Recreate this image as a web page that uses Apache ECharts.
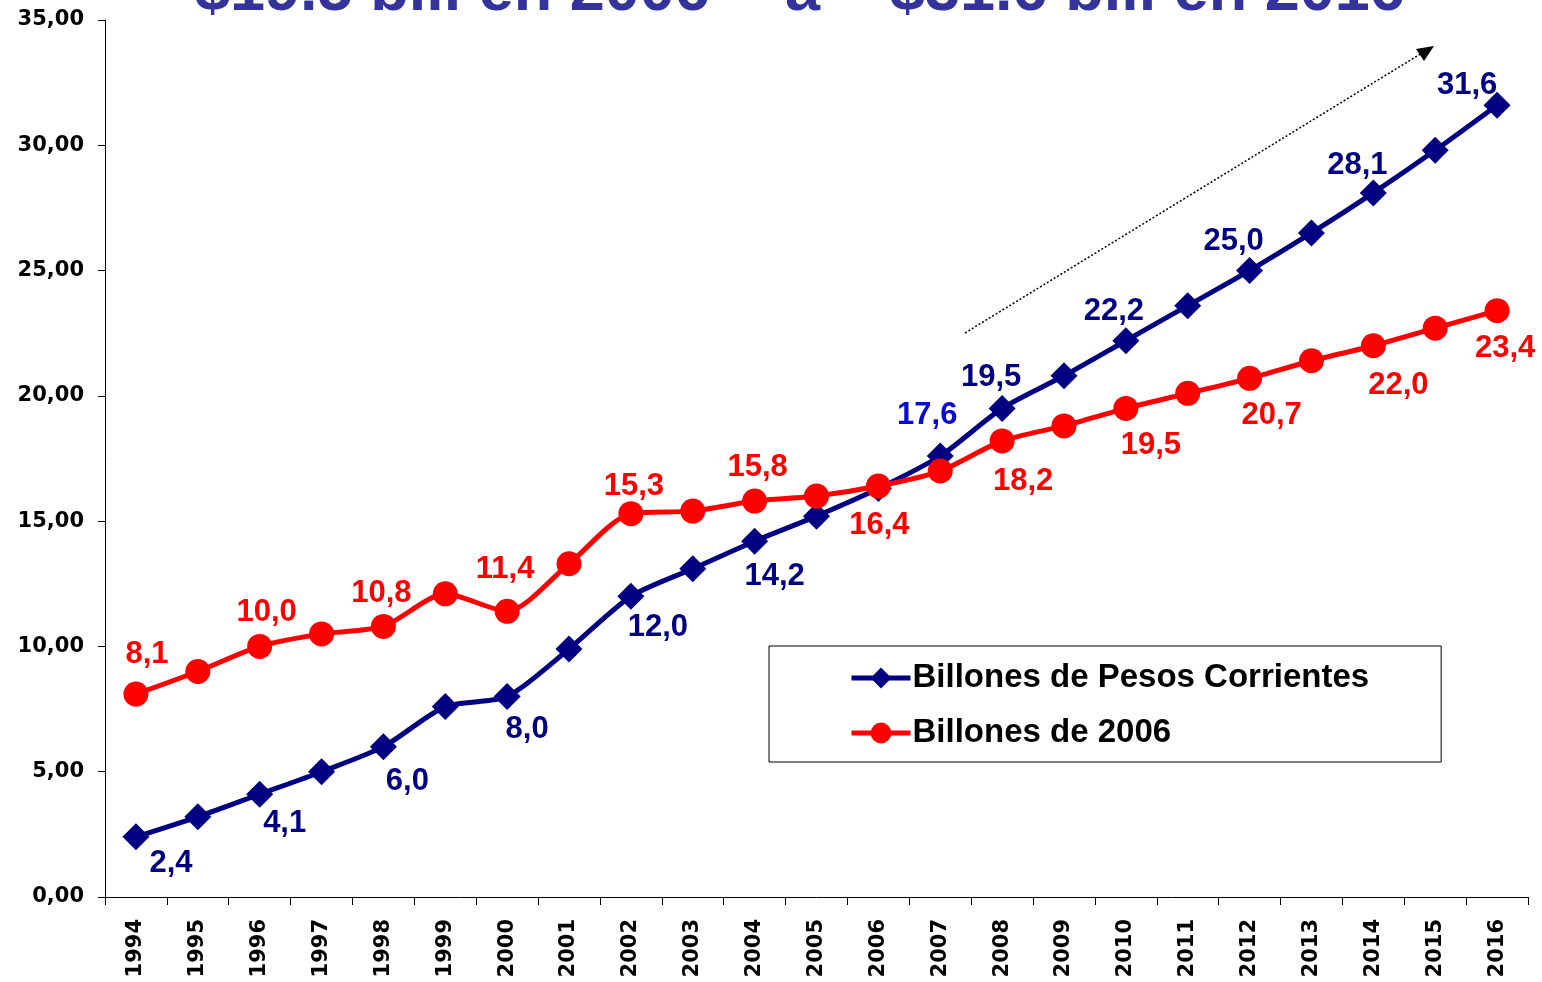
<!DOCTYPE html>
<html>
<head>
<meta charset="utf-8">
<script src="https://cdn.jsdelivr.net/npm/echarts@6/dist/echarts.min.js"></script>
<style>
  html, body { margin: 0; padding: 0; background: #fff; }
  #main { width: 1542px; height: 982px; }
</style>
</head>
<body>
<div id="main"></div>
<script>
// datos
var years = ['1994','1995','1996','1997','1998','1999','2000','2001','2002','2003','2004','2005',
             '2006','2007','2008','2009','2010','2011','2012','2013','2014','2015','2016'];
var corrientes = [2.4, 3.2, 4.1, 5.0, 6.0, 7.6, 8.0, 9.9, 12.0, 13.1, 14.2, 15.2,
                  16.3, 17.6, 19.5, 20.8, 22.2, 23.6, 25.0, 26.5, 28.1, 29.8, 31.6];
var constantes = [8.1, 9.0, 10.0, 10.5, 10.8, 12.1, 11.4, 13.3, 15.3, 15.4, 15.8, 16.0,
                  16.4, 17.0, 18.2, 18.8, 19.5, 20.1, 20.7, 21.4, 22.0, 22.7, 23.4];
var yTicks = [0, 5, 10, 15, 20, 25, 30, 35];
var blueLabelYears = ['1994','1996','1998','2000','2002','2004','2007','2008','2010','2012','2014','2016'];
var redLabelYears = ['1994','1996','1998','2000','2002','2004','2006','2008','2010','2012','2014','2016'];

// desplazamiento de etiquetas (px)
var blueOffsets = {
  '1994': [35, 27], '1996': [25, 29], '1998': [24, 35], '2000': [20, 33], '2002': [27, 31],
  '2004': [20, 35], '2007': [-13, -41], '2008': [-11, -31], '2010': [-12, -29],
  '2012': [-16, -29], '2014': [-16, -27], '2016': [-30, -20]
};
var redOffsets = {
  '1994': [11, -40], '1996': [7, -34], '1998': [-2, -33], '2000': [-2, -42], '2002': [3, -27],
  '2004': [3, -34], '2006': [1, 39], '2008': [21, 40], '2010': [25, 37], '2012': [22, 37],
  '2014': [25, 40], '2016': [8, 38]
};

var fmt = function (v) { return v.toFixed(1).replace('.', ','); };
var sans = 'Liberation Sans, Arial, sans-serif';
var wide = 'DejaVu Sans, Verdana, sans-serif';

function buildData(values, labelYears, offsets, color, special) {
  return values.map(function (v, i) {
    var y = years[i];
    var item = { value: v };
    if (labelYears.indexOf(y) >= 0) {
      item.label = {
        show: true,
        position: 'inside',
        offset: offsets[y],
        formatter: fmt(v),
        color: (special && special[y]) || color,
        fontFamily: sans,
        fontWeight: 'bold',
        fontSize: 31
      };
    }
    return item;
  });
}

var myChart = echarts.init(document.getElementById('main'));

var titleFont = 'bold 63px "Liberation Sans", Arial, sans-serif';

var option = {
  backgroundColor: '#ffffff',
  animation: false,
  grid: { left: 105, right: 14, top: 20, bottom: 85 },
  legend: {
    orient: 'vertical',
    left: 769,
    top: 646,
    padding: [15, 72, 12, 80],
    itemGap: 21,
    itemWidth: 59,
    itemHeight: 26,
    borderColor: '#000',
    borderWidth: 1,
    backgroundColor: '#fff',
    lineStyle: { width: 5 },
    textStyle: {
      color: '#000',
      fontFamily: sans,
      fontWeight: 'bold',
      fontSize: 33,
      lineHeight: 34,
      padding: [0, 0, 0, -3]
    },
    data: ['Billones de Pesos Corrientes', 'Billones de 2006']
  },
  xAxis: {
    type: 'category',
    data: years,
    boundaryGap: true,
    axisLine: { lineStyle: { color: '#000', width: 1 } },
    axisTick: { show: true, length: 8, lineStyle: { color: '#000' } },
    axisLabel: {
      rotate: 90,
      margin: 22,
      color: '#000',
      fontFamily: wide,
      fontWeight: 'bold',
      fontSize: 21
    },
    splitLine: { show: false }
  },
  yAxis: {
    type: 'value',
    min: yTicks[0],
    max: yTicks[yTicks.length - 1],
    interval: yTicks[1] - yTicks[0],
    axisLine: { show: true, lineStyle: { color: '#000', width: 1 } },
    axisTick: { show: true, length: 7, lineStyle: { color: '#000' } },
    axisLabel: {
      margin: 21,
      color: '#000',
      fontFamily: wide,
      fontWeight: 'bold',
      fontSize: 21,
      formatter: function (v) { return v.toFixed(2).replace('.', ','); }
    },
    splitLine: { show: false }
  },
  graphic: [
    {
      type: 'text', left: 195, top: -39, silent: true,
      style: { text: '$19.5 bill en 2006', font: titleFont, fill: '#333399' }
    },
    {
      type: 'text', left: 785, top: -39, silent: true,
      style: { text: 'a', font: titleFont, fill: '#333399' }
    },
    {
      type: 'text', left: 890, top: -39, silent: true,
      style: { text: '$31.6 bill en 2016', font: titleFont, fill: '#333399' }
    },
    {
      type: 'line', silent: true,
      shape: { x1: 965, y1: 333, x2: 1422, y2: 53 },
      style: { stroke: '#000', lineWidth: 1.5, lineDash: [2, 2] }
    },
    {
      type: 'polygon', silent: true,
      shape: { points: [[1434, 46], [1416, 49], [1424, 61]] },
      style: { fill: '#000' }
    }
  ],
  series: [
    {
      name: 'Billones de Pesos Corrientes',
      type: 'line',
      smooth: 0.25,
      symbol: 'diamond',
      symbolSize: 27,
      lineStyle: { color: '#000080', width: 5 },
      itemStyle: { color: '#000080' },
      z: 3,
      data: buildData(corrientes, blueLabelYears, blueOffsets, '#000080', { '2007': '#0a0ad0' })
    },
    {
      name: 'Billones de 2006',
      type: 'line',
      smooth: 0.25,
      symbol: 'circle',
      symbolSize: 25,
      lineStyle: { color: '#ff0000', width: 5 },
      itemStyle: { color: '#ff0000' },
      z: 4,
      data: buildData(constantes, redLabelYears, redOffsets, '#ff0000')
    }
  ]
};

myChart.setOption(option);
</script>
</body>
</html>
